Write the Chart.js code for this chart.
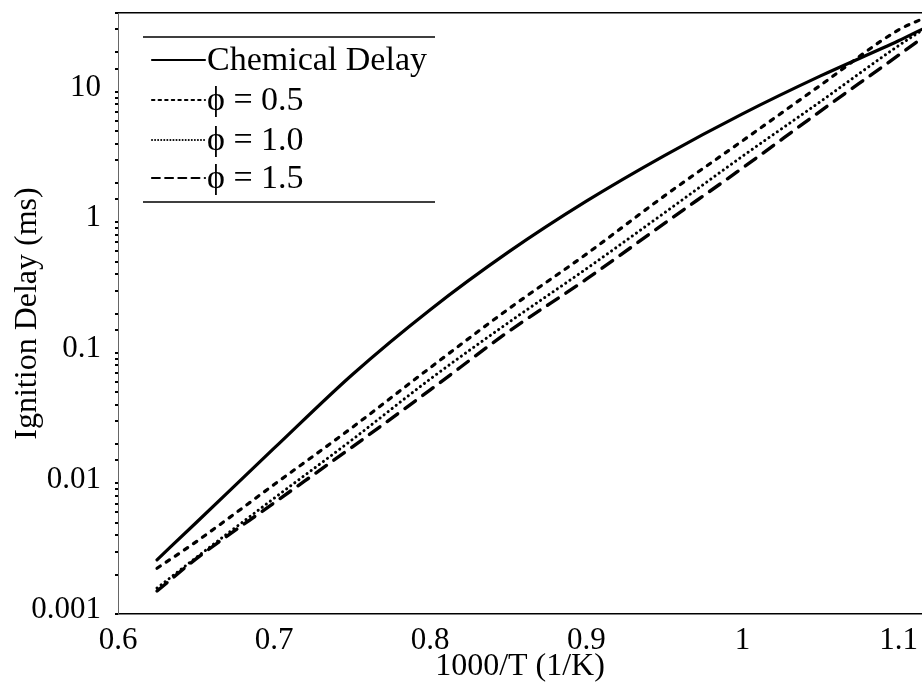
<!DOCTYPE html>
<html>
<head>
<meta charset="utf-8">
<script src="https://cdn.jsdelivr.net/npm/chart.js@4"></script>
<style>
  body { margin: 0; background: #fff; }
  #wrap { width: 922px; height: 690px; }
</style>
</head>
<body>
<div id="wrap"><canvas id="delayChart"></canvas></div>
<script>
// 1000/T values where the curves were read
var xValues = [0.625, 0.65, 0.7, 0.75, 0.8, 0.85, 0.9, 0.95, 1.0, 1.05, 1.1, 1.115];

var chemicalDelay = [0.0026, 0.005, 0.0186, 0.068, 0.214, 0.59, 1.45, 3.24, 6.76, 13.2, 24.5, 30];
var phi05 = [0.00224, 0.00357, 0.0098, 0.0268, 0.077, 0.216, 0.57, 1.59, 4.2, 11.2, 29.7, 36];
var phi10 = [0.00158, 0.0027, 0.0077, 0.0216, 0.063, 0.17, 0.44, 1.18, 3.2, 8.4, 22.5, 29.5];
var phi15 = [0.0015, 0.00264, 0.0071, 0.019, 0.052, 0.145, 0.366, 0.98, 2.6, 7.1, 19, 25.7];

var seriesNames = ['Chemical Delay', '\u03d5 = 0.5', '\u03d5 = 1.0', '\u03d5 = 1.5'];

var xTickValues = [0.6, 0.7, 0.8, 0.9, 1, 1.1];
var xTickLabels = ['0.6', '0.7', '0.8', '0.9', '1', '1.1'];
var yTickValues = [0.001, 0.01, 0.1, 1, 10];
var yTickLabels = ['0.001', '0.01', '0.1', '1', '10'];

var serif = "'Liberation Serif', 'DejaVu Serif', serif";

function toPoints(ys) {
    return xValues.map(function(x, i) { return { x: x, y: ys[i] }; });
}

function makeSet(label, ys, width, dash) {
    return {
        label: label,
        data: toPoints(ys),
        borderColor: '#000',
        backgroundColor: '#000',
        borderWidth: width,
        borderDash: dash,
        borderCapStyle: 'round',
        pointRadius: 0,
        cubicInterpolationMode: 'monotone',
        fill: false
    };
}

// legend drawn inside the plot, like the original figure
var insideLegend = {
    id: 'insideLegend',
    afterDraw: function(chart) {
        var ctx = chart.ctx;
        var a = chart.chartArea;
        var left = a.left + 25, right = a.left + 317;
        var rows = [47, 87, 127, 165];
        ctx.save();
        ctx.strokeStyle = '#000';
        ctx.lineWidth = 1.5;
        ctx.beginPath();
        ctx.moveTo(left, a.top + 24); ctx.lineTo(right, a.top + 24);
        ctx.moveTo(left, a.top + 189); ctx.lineTo(right, a.top + 189);
        ctx.stroke();
        ctx.font = "34px " + serif;
        ctx.fillStyle = '#000';
        ctx.textBaseline = 'middle';
        chart.data.datasets.forEach(function(ds, i) {
            var y = a.top + rows[i];
            ctx.lineWidth = Math.max(1.6, ds.borderWidth * 0.65);
            ctx.lineCap = 'round';
            ctx.setLineDash(ds.borderDash.map(function(d) { return d * 0.6; }));
            ctx.beginPath();
            ctx.moveTo(left + 9, y);
            ctx.lineTo(left + 62, y);
            ctx.stroke();
            ctx.setLineDash([]);
            ctx.fillText(ds.label, left + 64, y + 1);
        });
        ctx.restore();
    }
};

var ctx = document.getElementById('delayChart').getContext('2d');
var delayChart = new Chart(ctx, {
    type: 'line',
    data: {
        datasets: [
            makeSet(seriesNames[0], chemicalDelay, 3.2, []),
            makeSet(seriesNames[1], phi05, 3.2, [4, 7]),
            makeSet(seriesNames[2], phi10, 3, [0.1, 5]),
            makeSet(seriesNames[3], phi15, 3.4, [13, 9])
        ]
    },
    options: {
        responsive: true,
        maintainAspectRatio: false,
        animation: false,
        layout: { padding: { top: 13, right: 0, bottom: 0, left: 0 } },
        plugins: {
            legend: { display: false },
            tooltip: { enabled: false }
        },
        scales: {
            x: {
                type: 'linear',
                min: 0.6,
                max: 1.115,
                afterFit: function(scale) {
                    scale.height = 76;
                    scale.paddingLeft = 0;
                    scale.paddingRight = 0;
                },
                afterBuildTicks: function(scale) {
                    scale.ticks = xTickValues.map(function(v) { return { value: v }; });
                },
                ticks: {
                    color: '#000',
                    font: { family: serif, size: 31 },
                    padding: 8,
                    maxRotation: 0,
                    autoSkip: false,
                    callback: function(v) {
                        var i = xTickValues.findIndex(function(t) { return Math.abs(t - v) < 1e-6; });
                        return i >= 0 ? xTickLabels[i] : '';
                    }
                },
                grid: { display: false, drawTicks: false },
                border: { display: true, color: '#000', width: 1.5 },
                title: {
                    display: true,
                    text: '1000/T (1/K)',
                    color: '#000',
                    font: { family: serif, size: 32 },
                    padding: { top: 0, bottom: 4 }
                }
            },
            xTop: {
                type: 'linear',
                position: 'top',
                min: 0.6,
                max: 1.115,
                afterFit: function(scale) {
                    scale.height = 0;
                    scale.paddingLeft = 0;
                    scale.paddingRight = 0;
                },
                ticks: { display: false },
                grid: { display: false, drawTicks: false },
                border: { display: true, color: '#000', width: 1.5 }
            },
            y: {
                type: 'logarithmic',
                min: 0.001,
                max: 40,
                afterFit: function(scale) {
                    scale.width = 118;
                    scale.paddingTop = 0;
                    scale.paddingBottom = 0;
                },
                ticks: {
                    color: '#000',
                    font: { family: serif, size: 31 },
                    padding: 14,
                    labelOffset: -4,
                    autoSkip: false,
                    callback: function(v) {
                        var i = yTickValues.findIndex(function(t) { return Math.abs(Math.log10(t) - Math.log10(v)) < 1e-6; });
                        return i >= 0 ? yTickLabels[i] : '';
                    }
                },
                grid: {
                    display: true,
                    drawOnChartArea: false,
                    drawTicks: true,
                    tickLength: 3,
                    color: '#000',
                    lineWidth: 2
                },
                border: { display: true, color: '#666', width: 1, dash: [1, 3] },
                title: {
                    display: true,
                    text: 'Ignition Delay (ms)',
                    color: '#000',
                    font: { family: serif, size: 32 },
                    padding: { top: 8, bottom: 0 }
                }
            }
        }
    },
    plugins: [insideLegend]
});
</script>
</body>
</html>
